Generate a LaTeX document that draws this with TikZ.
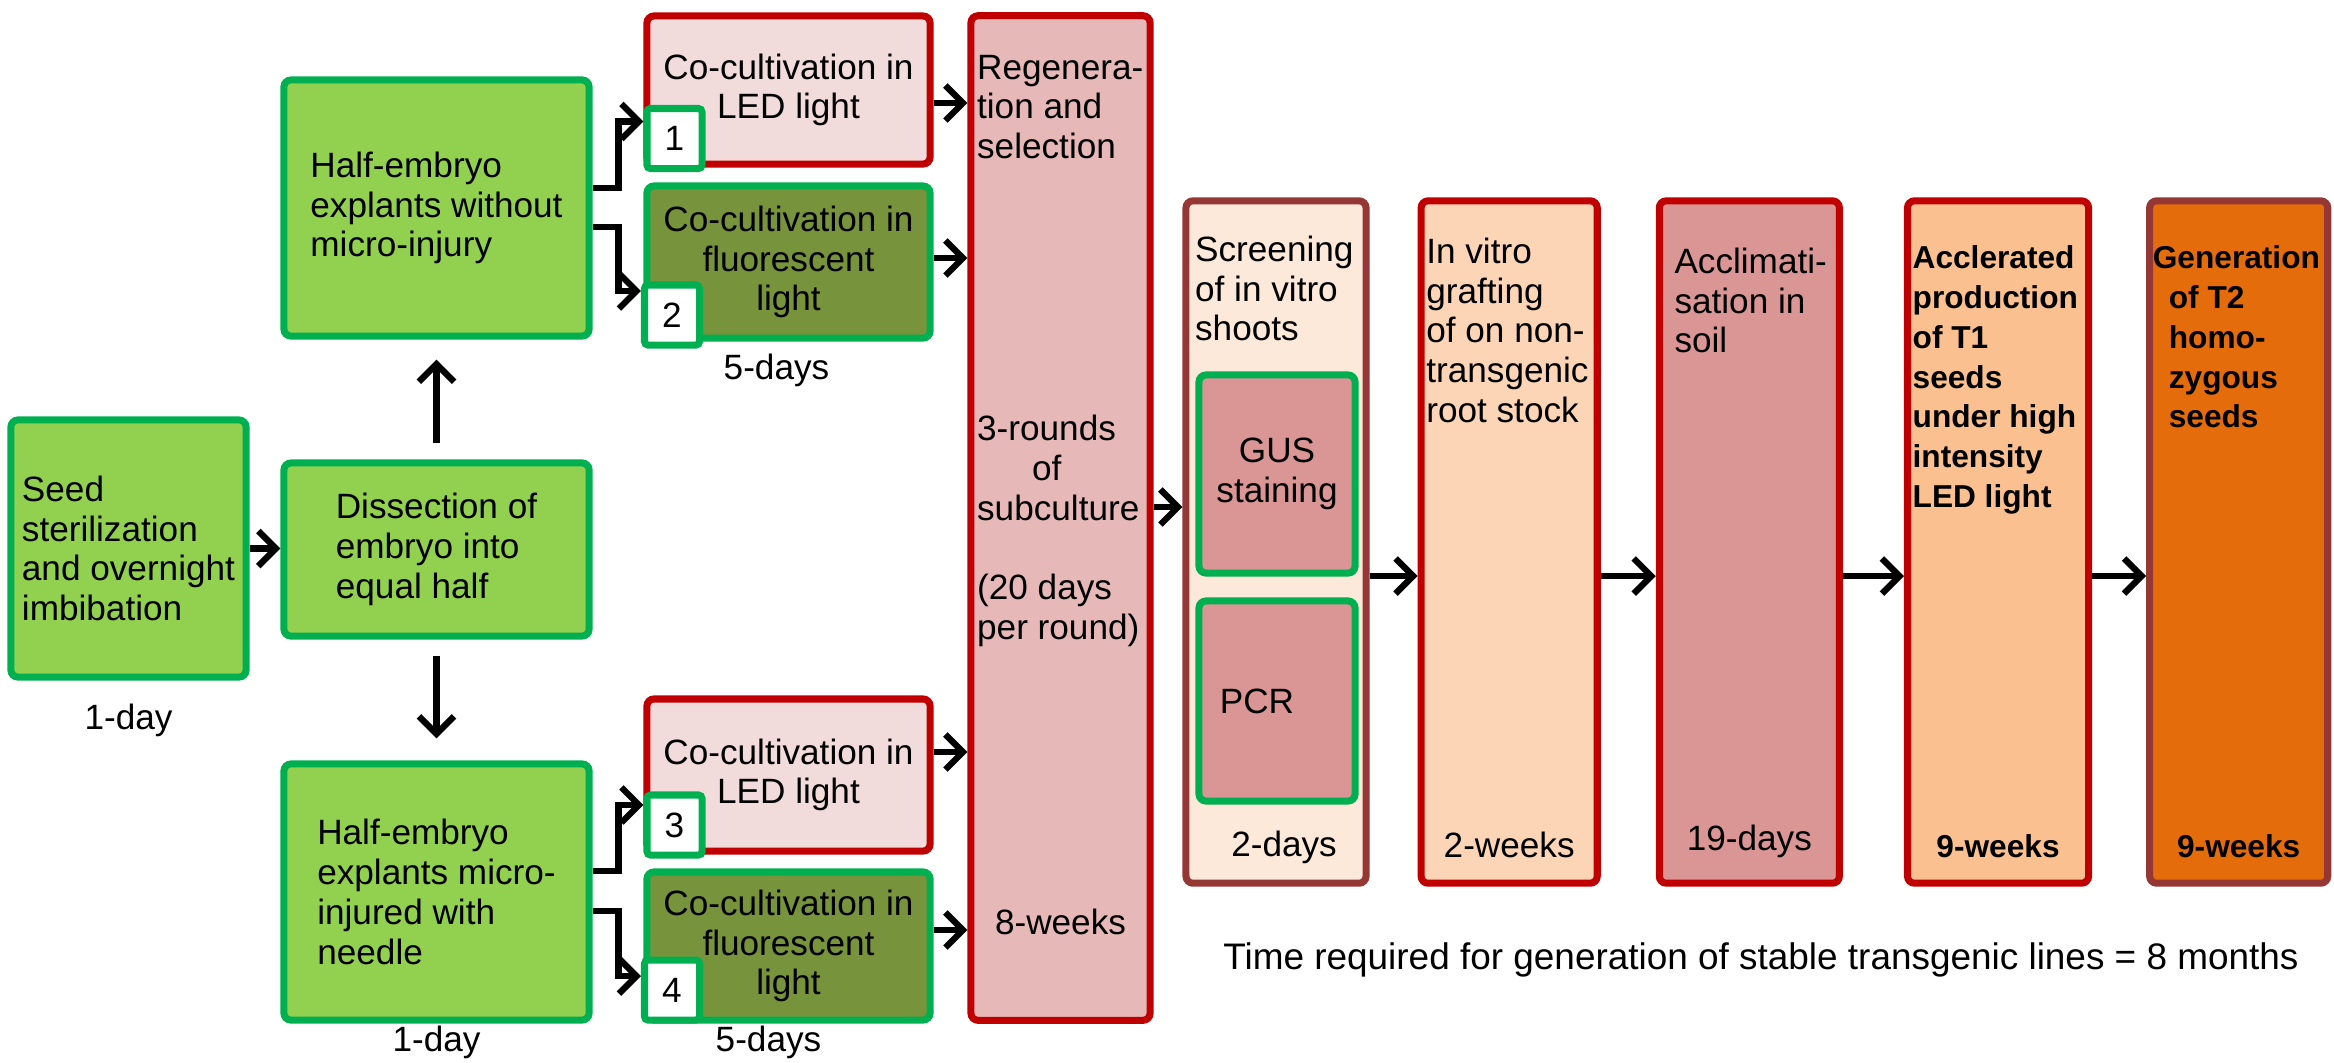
\documentclass[tikz,border=0pt]{standalone}
\usepackage{fontspec}
\setmainfont{Liberation Sans}
\usetikzlibrary{positioning, arrows.meta}

\definecolor{boxgreen}{HTML}{00B050}
\definecolor{leafgreen}{HTML}{92D050}
\definecolor{olivebox}{HTML}{77933C}
\definecolor{stagered}{HTML}{C00000}
\definecolor{brownred}{HTML}{953735}
\definecolor{palepink}{HTML}{F2DCDB}
\definecolor{rosepink}{HTML}{E6B9B8}
\definecolor{dustyrose}{HTML}{D99694}
\definecolor{palepeach}{HTML}{FDE9D9}
\definecolor{peach}{HTML}{FBD5B5}
\definecolor{apricot}{HTML}{FAC090}
\definecolor{deeporange}{HTML}{E46C0A}

\tikzset{
        stage/.style={draw=stagered, line width=2pt, rounded corners=2pt, inner sep=0pt}, % every coloured box
        greenstage/.style={stage, draw=boxgreen, fill=leafgreen, align=left},
        numbox/.style={draw=boxgreen, fill=white, line width=2pt, rounded corners=1pt, minimum width=0.55cm, minimum height=0.6cm, inner sep=0pt},
        note/.style={align=left, inner sep=0pt}, % text at the top of a tall box
        duration/.style={inner sep=0pt},
        flow/.style={->, line width=1.8pt}, % black arrows
        boldtext/.style={font=\fontsize{9}{11.3}\selectfont\bfseries},
        }

\begin{document}
\begin{tikzpicture}[x=0.01cm, y=-0.01cm, font=\fontsize{10}{11.3}\selectfont, >={Straight Barb[length=5pt,width=10pt]}]
        \useasboundingbox (0,0) rectangle (2334,1062);

        % preparation of the explants
        \node[greenstage, minimum width=2.35cm, minimum height=2.57cm] (seed) at (128.5,548.5) {Seed\\sterilization\\and overnight\\imbibation};
        \node[greenstage, minimum width=3.05cm, minimum height=1.73cm] (dissect) at (436.5,549.5) {Dissection of\\embryo into\\equal half};
        \node[greenstage, minimum width=3.05cm, minimum height=2.56cm] (halftop) at (436.5,208) {Half-embryo\\explants without\\micro-injury};
        \node[greenstage, minimum width=3.05cm, minimum height=2.56cm] (halfbot) at (436.5,892) {Half-embryo\\explants micro-\\injured with\\needle};
        \node[duration, below=0.23cm of seed] (seedtime) {1-day};
        \node[duration, below=0.02cm of halfbot] (halfbottime) {1-day};

        % co-cultivation
        \node[stage, fill=palepink, minimum width=2.83cm, minimum height=1.48cm, align=center] (cc1) at (788.5,90) {Co-cultivation in\\LED light};
        \node[stage, draw=boxgreen, fill=olivebox, minimum width=2.83cm, minimum height=1.52cm, align=center] (cc2) at (788.5,262) {Co-cultivation in\\fluorescent\\light};
        \node[stage, fill=palepink, minimum width=2.83cm, minimum height=1.52cm, align=center] (cc3) at (788.5,775) {Co-cultivation in\\LED light};
        \node[stage, draw=boxgreen, fill=olivebox, minimum width=2.83cm, minimum height=1.48cm, align=center] (cc4) at (788.5,946) {Co-cultivation in\\fluorescent\\light};
        \node[numbox] (num1) at (674.5,138.5) {1};
        \node[numbox] (num2) at (672,315) {2};
        \node[numbox] (num3) at (674.5,825) {3};
        \node[numbox] (num4) at (672,990) {4};
        \node[duration, below=0.12cm of cc2, xshift=-0.12cm] (cctime) {5-days};
        \node[duration, below=0.02cm of cc4, xshift=-0.2cm] (ccbottime) {5-days};

        % regeneration
        \node[stage, fill=rosepink, minimum width=1.79cm, minimum height=10.04cm] (regen) at (1060.5,518) {};
        \node[note, below right=0.42cm and 0.09cm of regen.north west] (regentext) {Regenera-\\tion and\\selection};
        \node[note, below right=4.02cm and 0.09cm of regen.north west] (subtext) {3-rounds\\\hspace*{0.55cm}of\\subculture\\[11.3pt](20 days\\per round)};
        \node[duration, above=0.88cm of regen.south] (regentime) {8-weeks};

        % screening and later stages
        \node[stage, draw=brownred, fill=palepeach, minimum width=1.80cm, minimum height=6.82cm] (screen) at (1276,542) {};
        \node[stage, draw=boxgreen, fill=dustyrose, minimum width=1.56cm, minimum height=1.98cm, align=center] (gus) at (1277,474) {GUS\\staining};
        \node[stage, draw=boxgreen, fill=dustyrose, minimum width=1.56cm, minimum height=2.0cm] (pcr) at (1277,701) {PCR\hspace*{0.4cm}};
        \node[stage, fill=peach, minimum width=1.76cm, minimum height=6.82cm, right=0.48cm of screen] (invitro) {};
        \node[stage, fill=dustyrose, minimum width=1.80cm, minimum height=6.82cm, right=0.55cm of invitro] (acclim) {};
        \node[stage, fill=apricot, minimum width=1.81cm, minimum height=6.82cm, right=0.61cm of acclim] (accel) {};
        \node[stage, draw=brownred, fill=deeporange, minimum width=1.78cm, minimum height=6.82cm, right=0.54cm of accel] (gen) {};

        \node[note, below right=0.38cm and 0.12cm of screen.north west] (screentext) {Screening\\of in vitro\\shoots};
        \node[note, below right=0.40cm and 0.08cm of invitro.north west] (invitrotext) {In vitro\\grafting\\of on non-\\transgenic\\root stock};
        \node[note, below right=0.50cm and 0.18cm of acclim.north west] (acclimtext) {Acclimati-\\sation in\\soil};
        \node[note, boldtext, below right=0.48cm and 0.08cm of accel.north west] (acceltext) {Acclerated\\production\\of T1\\seeds\\under high\\intensity\\LED light};
        \node[note, boldtext, below right=0.48cm and 0.06cm of gen.north west] (gentext) {Generation\\\hspace*{0.16cm}of T2\\\hspace*{0.16cm}homo-\\\hspace*{0.16cm}zygous\\\hspace*{0.16cm}seeds};

        \node[duration, above=0.22cm of screen.south, xshift=0.08cm] (screentime) {2-days};
        \node[duration, above=0.28cm of invitro.south] (invitrotime) {2-weeks};
        \node[duration, above=0.28cm of acclim.south] (acclimtime) {19-days};
        \node[duration, boldtext, above=0.28cm of accel.south] (acceltime) {9-weeks};
        \node[duration, boldtext, above=0.28cm of gen.south] (gentime) {9-weeks};

        \node[font=\fontsize{10.5}{12}\selectfont] (total) at (1761,960) {Time required for generation of stable transgenic lines = 8 months};

        % arrows
        \draw[flow] (seed.east) -- (seed.east -| dissect.west);
        \draw[flow, shorten <=0.16cm, shorten >=0.2cm] (dissect.north) -- (halftop.south);
        \draw[flow, shorten <=0.16cm, shorten >=0.22cm] (dissect.south) -- (halfbot.north);
        \draw[flow] ([yshift=0.2cm]halftop.east) -- ++(26,0) |- ([yshift=0.17cm]num1.west);
        \draw[flow] ([yshift=-0.19cm]halftop.east) -- ++(26,0) |- ([yshift=0.24cm]num2.west);
        \draw[flow] ([yshift=0.21cm]halfbot.east) -- ++(26,0) |- ([yshift=0.2cm]num3.west);
        \draw[flow] ([yshift=-0.19cm]halfbot.east) -- ++(26,0) |- ([yshift=0.14cm]num4.west);
        \draw[flow] ([yshift=-0.13cm]cc1.east) -- ([yshift=-0.13cm]cc1.east -| regen.west);
        \draw[flow] ([yshift=0.04cm]cc2.east) -- ([yshift=0.04cm]cc2.east -| regen.west);
        \draw[flow] ([yshift=0.23cm]cc3.east) -- ([yshift=0.23cm]cc3.east -| regen.west);
        \draw[flow] ([yshift=0.16cm]cc4.east) -- ([yshift=0.16cm]cc4.east -| regen.west);
        \draw[flow] ([yshift=0.35cm]screen.west -| regen.east) -- ([yshift=0.35cm]screen.west);
        \draw[flow] ([yshift=-0.34cm]screen.east) -- ([yshift=-0.34cm]invitro.west);
        \draw[flow] ([yshift=-0.34cm]invitro.east) -- ([yshift=-0.34cm]acclim.west);
        \draw[flow] ([yshift=-0.34cm]acclim.east) -- ([yshift=-0.34cm]accel.west);
        \draw[flow] ([yshift=-0.34cm]accel.east) -- ([yshift=-0.34cm]gen.west);

\end{tikzpicture}
\end{document}
